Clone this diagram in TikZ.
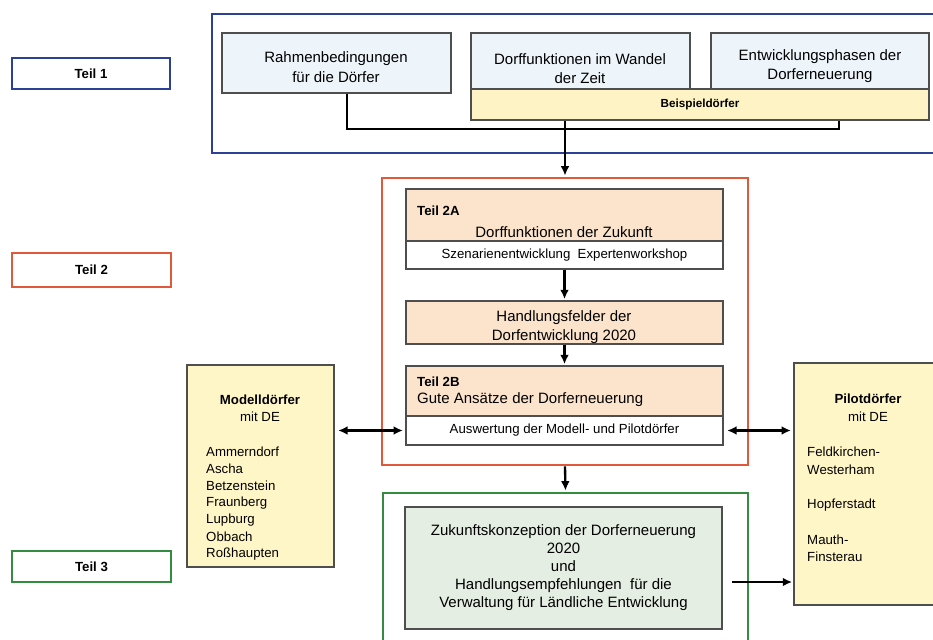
\documentclass[tikz,border=0pt]{standalone}
\usepackage{fontspec}
\setmainfont{Liberation Sans}
\usetikzlibrary{arrows.meta}

\definecolor{teilblau}{RGB}{44,64,152}
\definecolor{teilrot}{RGB}{226,88,58}
\definecolor{teilgruen}{RGB}{52,140,64}
\definecolor{randgrau}{RGB}{78,78,78}
\definecolor{hellblau}{RGB}{237,245,251}
\definecolor{hellgelb}{RGB}{253,243,196}
\definecolor{pfirsich}{RGB}{252,228,204}
\definecolor{dorfgelb}{RGB}{255,246,200}
\definecolor{hellgruen}{RGB}{229,238,226}

\newcommand{\grossschrift}{\fontsize{12.8}{16.8}\selectfont}
\newcommand{\kleinschrift}{\fontsize{11.3}{14}\selectfont}

\begin{document}
\begin{tikzpicture}[x=0.3mm,y=-0.3mm,
  ecken/.style args={#1/#2/#3/#4}{minimum width={(#3-#1)*0.3mm},minimum height={(#4-#2)*0.3mm},
    at={({(#1+#3)/2},{(#2+#4)/2})}},
  box/.style={draw=randgrau,line width=1.2pt,inner sep=0pt,align=center,font=\grossschrift},
  frame/.style={line width=2.2pt,inner sep=0pt},
  teil/.style={frame,fill=white,font=\kleinschrift\bfseries},
  txt/.style={inner sep=0pt,font=\kleinschrift},
  linie/.style={line width=2pt},
  pfeil/.style={line width=2pt,-{Latex[length=8pt,width=7.5pt]},shorten >=1pt},
  doppel/.style={line width=2pt,{Latex[length=8pt,width=7.5pt]}-{Latex[length=8pt,width=7.5pt]},shorten >=2pt,shorten <=3pt}]
  \useasboundingbox (0,0) rectangle (933,639);
  \clip (0,0) rectangle (933,639);

  % Teil-Kennungen
  \node[teil,draw=teilblau,ecken=12/58/170/89] (teileins) {Teil 1};
  \node[teil,draw=teilrot,ecken=12/253/171/287] (teilzwei) {Teil 2};
  \node[teil,draw=teilgruen,ecken=12/551/171/582] (teildrei) {Teil 3};

  % Rahmen
  \node[frame,draw=teilblau,ecken=212/14/945/153] (blaurahmen) {};
  \node[frame,draw=teilrot,ecken=382/178/748/465] (rotrahmen) {};
  \node[frame,draw=teilgruen,ecken=383/493/748/660] (gruenrahmen) {};

  % Teil 1
  \node[box,fill=hellblau,ecken=222/33/451/93] (rahmenbed) {};
  \node[txt,align=center,font=\grossschrift] (rahmenbedtext) at (336,67) {Rahmenbedingungen\\für die Dörfer};
  \node[box,fill=hellblau,ecken=471/33/690/89] (wandel) {};
  \node[txt,align=center,font=\grossschrift] (wandeltext) at (580,68.5) {Dorffunktionen im Wandel\\der Zeit};
  \node[box,fill=hellblau,ecken=711/33/929/89] (phasen) {};
  \node[txt,align=center,font=\grossschrift] (phasentext) at (820,66) {Entwicklungsphasen der\\Dorferneuerung};
  \node[box,fill=hellgelb,ecken=471/89/929/120,font=\fontsize{10}{12}\selectfont\bfseries] (beispiel) {Beispieldörfer};

  % Teil 2
  \node[box,fill=pfirsich,ecken=406/189/723/241] (zweiA) {};
  \node[txt,anchor=west,font=\kleinschrift\bfseries] (zweiAtitel) at (417,211) {Teil 2A};
  \node[txt,font=\grossschrift] (zukunft) at (564,232) {Dorffunktionen der Zukunft};
  \node[box,fill=white,ecken=406/241/723/269,font=\kleinschrift] (szenario) {Szenarienentwicklung\ \ Expertenworkshop};
  \node[box,fill=pfirsich,ecken=406/301/723/344] (handlung) {};
  \node[txt,align=center,font=\grossschrift] (handlungtext) at (564,327) {Handlungsfelder der\\Dorfentwicklung 2020};
  \node[box,fill=pfirsich,ecken=406/366/723/416] (zweiB) {};
  \node[txt,anchor=west,font=\kleinschrift\bfseries] (zweiBtitel) at (417,382) {Teil 2B};
  \node[txt,anchor=west,font=\grossschrift] (ansaetze) at (417,400) {Gute Ansätze der Dorferneuerung};
  \node[box,fill=white,ecken=406/416/723/445,font=\kleinschrift] (auswertung) {Auswertung der Modell- und Pilotdörfer};

  % Modell- und Pilotdoerfer
  \node[box,fill=dorfgelb,ecken=187/365/334/567] (modell) {};
  \node[txt,font=\kleinschrift\bfseries] (modelltitel) at (260,400) {Modelldörfer};
  \node[txt] (modellde) at (260,417) {mit DE};
  \foreach \ort [count=\i] in {Ammerndorf,Ascha,Betzenstein,Fraunberg,Lupburg,Obbach,Roßhaupten}
    \node[txt,anchor=west] (m\i) at (206,{435+17*\i}) {\ort};

  \node[box,fill=dorfgelb,ecken=794/363/945/605] (pilot) {};
  \node[txt,font=\kleinschrift\bfseries] (pilottitel) at (868,399) {Pilotdörfer};
  \node[txt] (pilotde) at (868,417) {mit DE};
  \foreach \ort/\yy [count=\i] in {Feldkirchen-/452,Westerham/470,Hopferstadt/505,Mauth-/540,Finsterau/557}
    \node[txt,anchor=west] (p\i) at (807,\yy) {\ort};

  % Teil 3
  \node[box,fill=hellgruen,ecken=405/507/722/629,font=\fontsize{12.8}{15.4}\selectfont] (konzeption)
    {Zukunftskonzeption der Dorferneuerung\\2020\\und\\Handlungsempfehlungen\ \ für die\\Verwaltung für Ländliche Entwicklung};

  % Verbindungen
  \coordinate (busl) at (347,129);
  \coordinate (busr) at (839,129);
  \coordinate (konzpfeil) at (732,582);
  \draw[linie] (rahmenbed.south -| busl) -- (busl) -- (busr) -- (busr |- beispiel.south);
  \draw[pfeil] (beispiel.south -| rotrahmen.north) -- (rotrahmen.north);
  \draw[pfeil] (szenario) -- (handlung);
  \draw[pfeil] (handlung) -- (zweiB);
  \draw[doppel] (auswertung.west -| modell.east) -- (auswertung.west);
  \draw[doppel] (auswertung.east) -- (auswertung.east -| pilot.west);
  \draw[pfeil] (rotrahmen.south) -- (gruenrahmen.north);
  \draw[pfeil] (konzpfeil) -- (konzpfeil -| pilot.west);
\end{tikzpicture}
\end{document}
